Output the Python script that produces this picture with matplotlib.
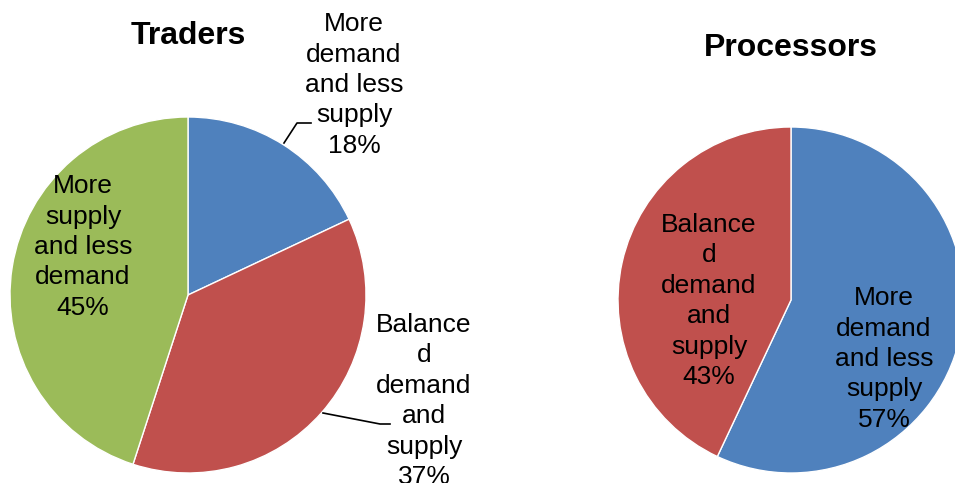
import matplotlib
matplotlib.use("Agg")
import matplotlib.pyplot as plt

# ---- data ----
traders_labels = ["More\ndemand\nand less\nsupply", "Balance\nd\ndemand\nand\nsupply", "More\nsupply\nand less\ndemand"]
traders_values = [18, 37, 45]
processors_labels = ["More\ndemand\nand less\nsupply", "Balance\nd\ndemand\nand\nsupply"]
processors_values = [57, 43]
titles = ["Traders", "Processors"]

BLUE, RED, GREEN = "#4F81BD", "#C0504D", "#9BBB59"
W, H = 955, 483
FONT = "Liberation Sans"

fig = plt.figure(figsize=(W / 100, H / 100), dpi=100)
ax = fig.add_axes([0, 0, 1, 1])

def Y(y):
    return H - y

wp = dict(edgecolor="white", linewidth=1)
ax.pie(traders_values, colors=[BLUE, RED, GREEN], startangle=90, counterclock=False,
       center=(188, Y(295)), radius=178, wedgeprops=wp)
ax.pie(processors_values, colors=[BLUE, RED], startangle=90, counterclock=False,
       center=(791, Y(300)), radius=173, wedgeprops=wp)

ax.set_xlim(0, W)
ax.set_ylim(0, H)
ax.set_aspect("equal")
ax.axis("off")

lab = dict(fontsize=19, family=FONT, ha="center", va="center", multialignment="center",
           linespacing=1.335, color="black")

def label(txt, val, x, y):
    ax.text(x, Y(y), f"{txt}\n{val}%", **lab)

# Traders labels
label(traders_labels[0], traders_values[0], 354, 85)
label(traders_labels[1], traders_values[1], 424, 401)
label(traders_labels[2], traders_values[2], 83, 247)
# Processors labels
label(processors_labels[0], processors_values[0], 884, 359)
label(processors_labels[1], processors_values[1], 709, 301)

# leader lines
ax.plot([284, 297, 311], [Y(143), Y(123), Y(123)], color="black", lw=1.2)
ax.plot([323, 380, 390], [Y(413), Y(424), Y(424)], color="black", lw=1.2)

# titles
ax.text(188, Y(36), titles[0], fontsize=23, fontweight="bold", family=FONT, ha="center", va="center")
ax.text(791, Y(48), titles[1], fontsize=23, fontweight="bold", family=FONT, ha="center", va="center")

fig.savefig("out.png", dpi=100)
